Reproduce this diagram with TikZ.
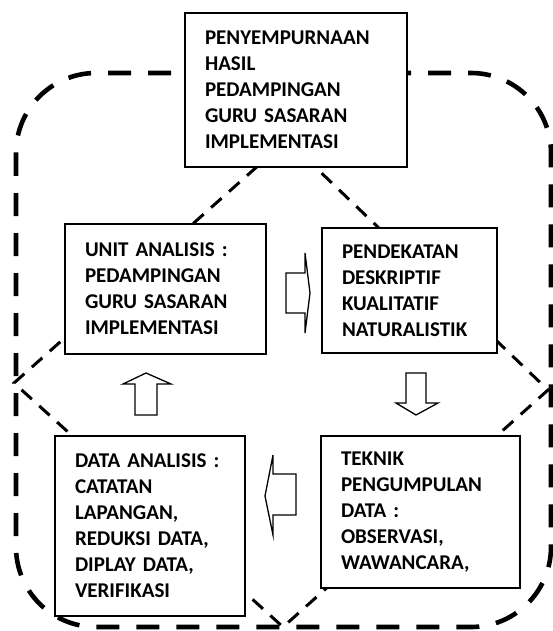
\documentclass[tikz,border=0pt]{standalone}
\usepackage{fontspec}
\setmainfont{Carlito}

\begin{document}
\begin{tikzpicture}[x=1pt,y=-1pt,
    kotak/.style={draw,line width=1.3pt,fill=white,align=left,inner xsep=20pt,inner ysep=0pt,
        font=\fontsize{21}{26}\selectfont\bfseries},
    panah/.style={draw,line width=1.3pt,fill=white,line join=miter}]
    \useasboundingbox (0,0) rectangle (553,631);

    % lingkaran luar
    \draw[line width=4.6pt,dash pattern=on 23pt off 17pt,rounded corners=80pt] (16,73) rectangle (551,627);
    % belah ketupat dalam
    \draw[line width=3pt,dash pattern=on 14pt off 10pt] (287,140) -- (548,390) -- (283,627) -- (14,383) -- cycle;

    \node[kotak,text width=182pt,minimum height=154pt] (top) at (296,90)
        {PENYEMPURNAAN\\HASIL\\PEDAMPINGAN\\GURU SASARAN\\IMPLEMENTASI};
    \node[kotak,text width=161pt,minimum height=130pt] (unit) at (165.5,289)
        {UNIT ANALISIS :\\PEDAMPINGAN\\GURU SASARAN\\IMPLEMENTASI};
    \node[kotak,text width=135pt,minimum height=125pt] (pendekatan) at (409.5,290.5)
        {PENDEKATAN\\DESKRIPTIF\\KUALITATIF\\NATURALISTIK};
    \node[kotak,text width=159pt,minimum height=152pt] (teknik) at (420.5,512)
        {TEKNIK\\PENGUMPULAN\\DATA :\\OBSERVASI,\\WAWANCARA,};
    \node[kotak,text width=150pt,minimum height=180pt] (data) at (150,526)
        {DATA ANALISIS :\\CATATAN\\LAPANGAN,\\REDUKSI DATA,\\DIPLAY DATA,\\VERIFIKASI};

    % panah blok
    \draw[panah] (286,273) -- (305,273) -- (305,253) -- (310,293) -- (305,333) -- (305,313) -- (286,313) -- cycle;
    \draw[panah] (406,373) -- (426,373) -- (426,403) -- (438,403) -- (416,415) -- (396,403) -- (406,403) -- cycle;
    \draw[panah] (296,474) -- (273,474) -- (273,455) -- (265,496) -- (273,535) -- (273,515) -- (296,515) -- cycle;
    \draw[panah] (135,415) -- (135,384) -- (123,384) -- (146,373) -- (171,384) -- (157,384) -- (157,415) -- cycle;

\end{tikzpicture}
\end{document}
